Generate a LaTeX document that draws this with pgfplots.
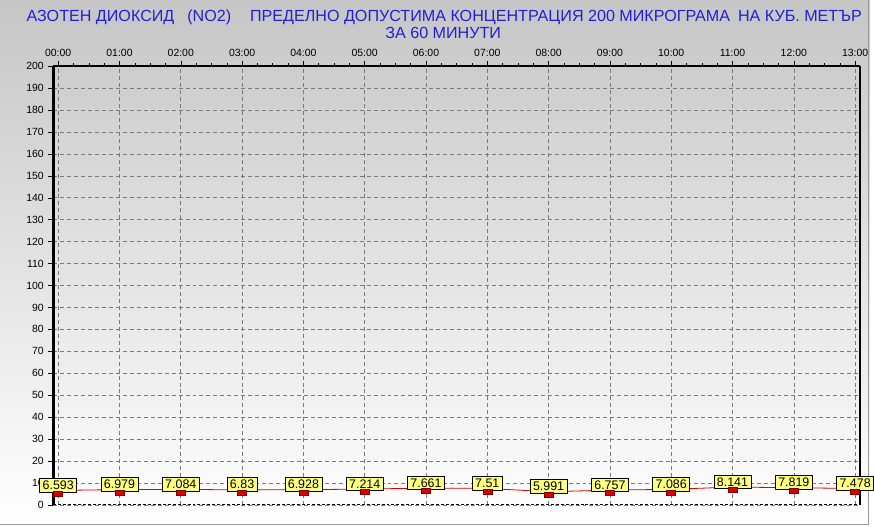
\documentclass[border=0pt]{standalone}
\usepackage{fontspec}
\setmainfont{Liberation Sans}
\usepackage{pgfplots}
\pgfplotsset{compat=1.18}
\definecolor{ttlblue}{HTML}{2020D8}
\definecolor{lblyellow}{HTML}{FFFF80}
\definecolor{mkred}{HTML}{D80000}
\definecolor{mkdark}{HTML}{7A0000}
\definecolor{gridgray}{HTML}{7A7A7A}
\definecolor{bgtop}{HTML}{C6C6C6}

% hourly NO2 values
\pgfplotstableread{
x y lbl
0 6.593 6.593
1 6.979 6.979
2 7.084 7.084
3 6.83 6.83
4 6.928 6.928
5 7.214 7.214
6 7.661 7.661
7 7.51 7.51
8 5.991 5.991
9 6.757 6.757
10 7.086 7.086
11 8.141 8.141
12 7.819 7.819
13 7.478 7.478
}\nodata

\begin{document}
\begin{tikzpicture}
\shade[top color=bgtop, bottom color=white] (0pt,0pt) rectangle (874pt,529pt);
\draw[gray!80, line width=1pt] (0pt,2pt) -- (872pt,2pt) -- (872pt,529pt);
\node[anchor=base, text=ttlblue, font=\fontsize{16.2}{18}\selectfont, inner sep=0pt]
  at (446pt,508pt) {АЗОТЕН ДИОКСИД\hspace{13pt}(NO2)\hspace{19pt}ПРЕДЕЛНО ДОПУСТИМА КОНЦЕНТРАЦИЯ 200 МИКРОГРАМА\hspace{8pt}НА КУБ. МЕТЪР};
\node[anchor=base, text=ttlblue, font=\fontsize{16.2}{18}\selectfont, inner sep=0pt]
  at (445pt,491pt) {ЗА 60 МИНУТИ};
\begin{axis}[
  at={(53pt,22pt)}, anchor=south west,
  scale only axis, width=811pt, height=441pt,
  xmin=-0.081, xmax=13.081, ymin=0, ymax=200,
  xtick={0,...,13},
  xticklabels={00:00,01:00,02:00,03:00,04:00,05:00,06:00,07:00,08:00,09:00,10:00,11:00,12:00,13:00},
  minor x tick num=3,
  ytick={0,10,...,200},
  xtick pos=right, xticklabel pos=right, ytick pos=left,
  tick align=outside,
  major tick length=5pt, minor tick length=3pt,
  tick style={black, line width=0.5pt},
  grid=major,
  major grid style={gridgray, dash pattern=on 4pt off 3pt, line width=0.6pt},
  axis line style={draw=none},
  clip=false,
  /pgf/number format/assume math mode=true,
  yticklabel style={font=\fontsize{10.5}{11}\selectfont, xshift=-1pt},
  xticklabel style={font=\fontsize{10.5}{11}\selectfont, yshift=1pt},
]
\draw[black, line width=2.6pt] (rel axis cs:0,0) -- (rel axis cs:0,1);
\draw[black, line width=1.4pt] (rel axis cs:0,1) -- (rel axis cs:1,1);
\draw[black, line width=1.2pt] (rel axis cs:1,1) -- (rel axis cs:1,0);
\draw[black, line width=0.8pt, dash pattern=on 3pt off 2pt] (rel axis cs:0,0) -- (rel axis cs:1,0);
\addplot[mkred, line width=0.8pt, mark=none] table[x=x,y=y] {\nodata};
\addplot[draw=none, mark=none, nodes near coords, point meta=explicit symbolic,
  nodes near coords style={fill=lblyellow, draw=black, line width=0.7pt, text=black,
    font=\fontsize{12.5}{13}\selectfont, inner xsep=3pt, inner ysep=2.5pt,
    anchor=south, yshift=-2pt}]
  table[x=x,y=y,meta=lbl] {\nodata};
\addplot[only marks, mark=square*, mark size=2.5pt,
  mark options={fill=mkred, draw=mkdark, line width=0.5pt, xscale=1.8, yshift=-3pt}]
  table[x=x,y=y] {\nodata};
\end{axis}
\end{tikzpicture}
\end{document}
